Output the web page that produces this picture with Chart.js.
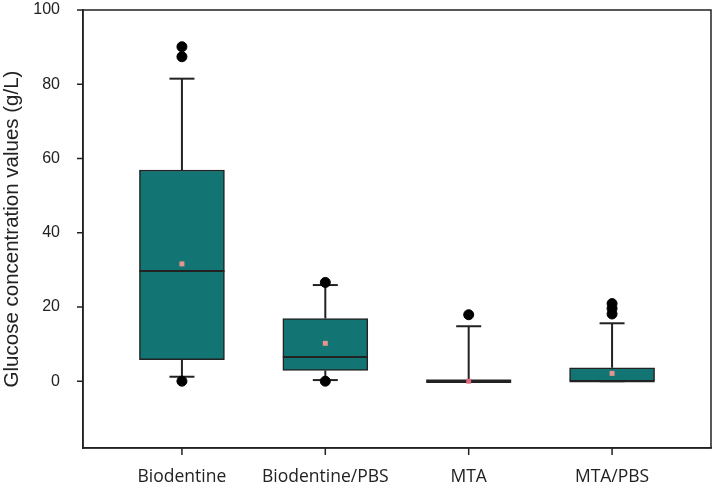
<!DOCTYPE html>
<html>
<head>
<meta charset="utf-8">
<script src="https://cdn.jsdelivr.net/npm/chart.js@4"></script>
<style>
  html, body { margin: 0; padding: 0; background: #fff; }
  #wrap { width: 713px; height: 484px; }
</style>
</head>
<body>
<div id="wrap"><canvas id="boxChart" width="713" height="484"></canvas></div>
<script>
// --- Data ---
const categories = ['Biodentine', 'Biodentine/PBS', 'MTA', 'MTA/PBS'];
const xPos = [1, 2, 3, 4];
const q1 = [5.8, 2.9, 0, 0];
const q3 = [56.9, 16.9, 0, 3.6];
const medians = [29.7, 6.5, 0, 0];
const means = [31.6, 10.2, 0, 2.1];
const whiskerLow = [1.2, 0.3, 0, 0];
const whiskerHigh = [81.5, 25.9, 14.8, 15.6];
const outliers = [[0, 87.4, 90.1], [0, 26.6], [17.9], [18.1, 19.6, 20.9]];
const yTicks = [0, 20, 40, 60, 80, 100];

const ink = '#222';
const teal = '#137573';

// whisker segments, separated by gaps
const whiskerPts = [];
xPos.forEach((x, i) => {
  whiskerPts.push({ x, y: q3[i] }, { x, y: whiskerHigh[i] }, { x, y: null });
  whiskerPts.push({ x, y: q1[i] }, { x, y: whiskerLow[i] }, { x, y: null });
});

const capPts = xPos.flatMap((x, i) => [{ x, y: whiskerHigh[i] }, { x, y: whiskerLow[i] }]);
const outlierPts = outliers.flatMap((arr, i) => arr.map(v => ({ x: xPos[i], y: v })));

// frame round the plot area + outward tick marks (drawn before datasets, no clip yet)
const frame = {
  id: 'frame',
  beforeDatasetsDraw(chart) {
    const a = chart.chartArea, c = chart.ctx;
    const xs = chart.scales.x, ys = chart.scales.y;
    c.save();
    c.strokeStyle = ink;
    c.lineWidth = 1.5;
    c.strokeRect(a.left, a.top, a.right - a.left, a.bottom - a.top);
    c.beginPath();
    xPos.forEach(v => {
      const px = xs.getPixelForValue(v);
      c.moveTo(px, a.bottom);
      c.lineTo(px, a.bottom + 7);
    });
    yTicks.forEach(v => {
      const py = ys.getPixelForValue(v);
      c.moveTo(a.left, py);
      c.lineTo(a.left - 6, py);
    });
    c.stroke();
    c.restore();
  }
};

const ctx = document.getElementById('boxChart');
new Chart(ctx, {
  type: 'bar',
  data: {
    datasets: [
      { type: 'scatter', data: outlierPts, pointStyle: 'circle', pointRadius: 5,
        backgroundColor: '#000', borderColor: '#000', order: 0 },
      { type: 'scatter', data: xPos.map((x, i) => ({ x, y: means[i] })), pointStyle: 'rect',
        pointRadius: 3.5, backgroundColor: ['#e6948f', '#e6948f', '#e0687e', '#e6948f'],
        borderWidth: 0, order: 1 },
      { type: 'scatter', data: xPos.map((x, i) => ({ x, y: medians[i] })), pointStyle: 'line',
        pointRadius: 42.5, borderColor: ink, pointBorderWidth: [2, 2, 3.5, 2], order: 2 },
      { type: 'scatter', data: capPts, pointStyle: 'line', pointRadius: 12.5,
        borderColor: ink, pointBorderWidth: 2, order: 3 },
      { type: 'line', data: whiskerPts, borderColor: ink, borderWidth: 2,
        pointRadius: 0, spanGaps: false, order: 4 },
      { type: 'bar', data: xPos.map((x, i) => ({ x, y: [q1[i], q3[i]] })),
        backgroundColor: teal, borderColor: ink, borderWidth: 1.5, borderSkipped: false,
        barThickness: 85, grouped: false, order: 5 }
    ]
  },
  options: {
    responsive: false,
    animation: false,
    layout: { autoPadding: false, padding: { top: 10, right: 2, left: 0, bottom: 0 } },
    plugins: { legend: { display: false }, tooltip: { enabled: false } },
    scales: {
      x: {
        type: 'linear', min: 0.31, max: 4.69, offset: false,
        afterBuildTicks: s => { s.ticks = xPos.map(v => ({ value: v })); },
        afterFit: s => { s.height = 36; s.paddingLeft = 0; s.paddingRight = 0; },
        grid: { offset: false, display: false },
        border: { color: ink, width: 1.5 },
        ticks: { padding: 11, color: ink, font: { family: 'Open Sans', size: 17.5 },
          callback: v => categories[v - 1] }
      },
      y: {
        type: 'linear', min: -18, max: 100,
        afterBuildTicks: s => { s.ticks = yTicks.map(v => ({ value: v })); },
        afterFit: s => { s.width = 83; s.paddingTop = 0; s.paddingBottom = 0; },
        grid: { display: false },
        border: { color: ink, width: 1.5 },
        ticks: { padding: 15, color: ink, font: { family: 'Liberation Sans', size: 16 } },
        title: { display: true, text: 'Glucose concentration values (g/L)', color: ink,
          font: { family: 'Liberation Sans', size: 20.5 }, padding: { top: 0, bottom: 0 } }
      }
    }
  },
  plugins: [frame]
});
</script>
</body>
</html>
